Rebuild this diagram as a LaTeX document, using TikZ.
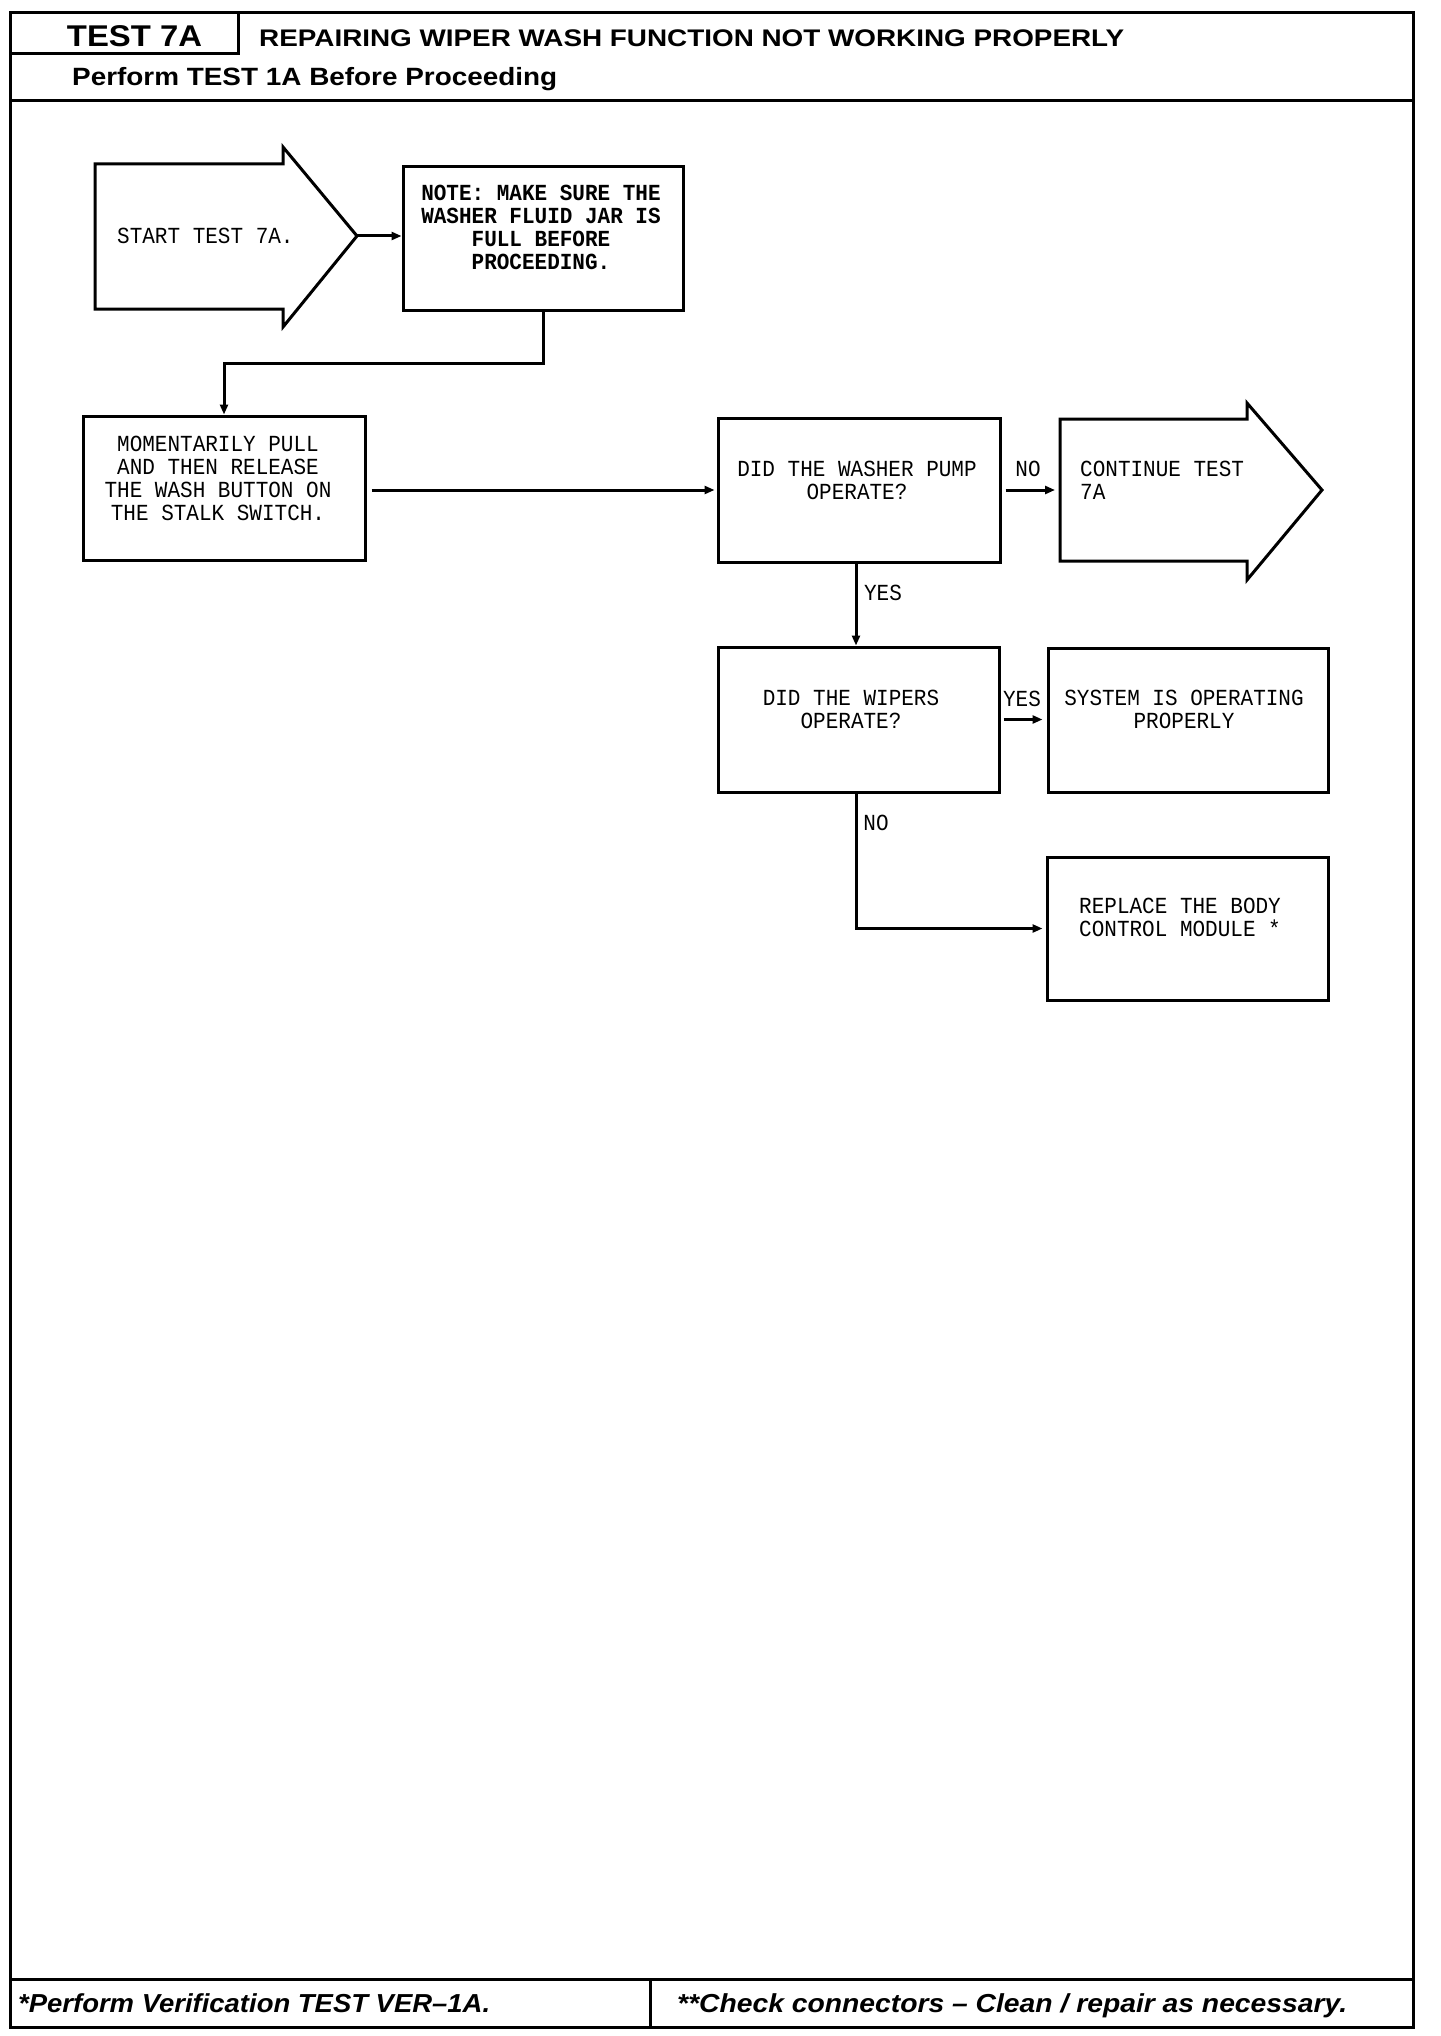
\documentclass[tikz,border=0pt]{standalone}
\usepackage{fontspec}
\setmainfont{Liberation Sans}
\newfontfamily\plotfont[FakeStretch=0.913]{Liberation Mono}
\usetikzlibrary{arrows.meta,calc}
\newcommand{\fitw}[2]{\resizebox{#1}{\height}{#2}}
\begin{document}
\begin{tikzpicture}[x=1pt,y=-1pt,
  frame/.style={line width=3pt},
  box/.style={draw,line width=3pt,minimum width=280pt,minimum height=143pt,inner sep=0pt},
  boxtxt/.style={inner sep=0pt,align=center,font=\plotfont\fontsize{23}{23}\selectfont},
  notetxt/.style={inner sep=0pt,align=center,font=\plotfont\bfseries\fontsize{23}{23}\selectfont},
  lbl/.style={inner sep=0pt,font=\plotfont\fontsize{23}{23}\selectfont},
  conn/.style={line width=3pt,-{Triangle[length=10pt,width=8pt]}},
  plain/.style={line width=3pt}
]
\useasboundingbox (0,0) rectangle (1440,2036);
\fill[white] (0,0) rectangle (1440,2036);

% frame and header
\draw[frame] (10,13) rectangle (1413,2027);
\draw[frame] (10,101) -- (1413,101);
\draw[frame] (10,53.5) -- (238,53.5) -- (238,13);
\draw[frame] (10,1979) -- (1413,1979);
\draw[frame] (650,1979) -- (650,2027);

\node[inner sep=0pt,anchor=base] (ttl) at (134.5,47)
  {\bfseries\fontsize{30}{30}\selectfont\fitw{135pt}{TEST 7A}};
\node[inner sep=0pt,anchor=base west] (head) at (259,47)
  {\bfseries\fontsize{24}{24}\selectfont\fitw{865pt}{REPAIRING WIPER WASH FUNCTION NOT WORKING PROPERLY}};
\node[inner sep=0pt,anchor=base west] (sub) at (72,86)
  {\bfseries\fontsize{25}{25}\selectfont\fitw{485pt}{Perform TEST 1A Before Proceeding}};
\node[inner sep=0pt,anchor=base west] (foot1) at (18,2012)
  {\bfseries\itshape\fontsize{26}{26}\selectfont\fitw{472pt}{*Perform Verification TEST VER\textendash1A.}};
\node[inner sep=0pt,anchor=base west] (foot2) at (677,2012)
  {\bfseries\itshape\fontsize{26}{26}\selectfont\fitw{670pt}{**Check connectors \textendash{} Clean / repair as necessary.}};

% start arrow
\draw[plain,line join=miter] (95,164) -- (283,164) -- (283,147) -- (357,236) -- (283,327) -- (283,309) -- (95,309) -- cycle;
\coordinate (starttip) at (357,236);
\node[lbl,anchor=west] (starttxt) at (117,236) {START TEST 7A.};

% note box
\node[box] (note) at (543,238.5) {};
\node[notetxt] (notetxt) at (541,227) {NOTE: MAKE SURE THE\\WASHER FLUID JAR IS\\FULL BEFORE\\PROCEEDING.};

% momentarily box
\node[box,minimum width=282pt,minimum height=144pt] (mom) at (224,488) {};
\node[boxtxt] (momtxt) at (218,478) {MOMENTARILY PULL\\AND THEN RELEASE\\THE WASH BUTTON ON\\THE STALK SWITCH.};

% washer pump box
\node[box,minimum width=282pt,minimum height=144pt] (pump) at (859,490) {};
\node[boxtxt] (pumptxt) at (857,480) {DID THE WASHER PUMP\\OPERATE?};

% continue arrow
\draw[plain,line join=miter] (1060,419) -- (1247,419) -- (1247,403) -- (1322,490) -- (1247,580) -- (1247,561) -- (1060,561) -- cycle;
\coordinate (conttail) at (1060,490);
\node[boxtxt,align=left,anchor=west] (conttxt) at (1080,480) {CONTINUE TEST\\7A};

% wipers box
\node[box,minimum width=281pt,minimum height=145pt] (wip) at (858.5,719.5) {};
\node[boxtxt] (wiptxt) at (851,709) {DID THE WIPERS\\OPERATE?};

% system box
\node[box,minimum height=144pt] (sys) at (1188,720) {};
\node[boxtxt] (systxt) at (1184,709) {SYSTEM IS OPERATING\\PROPERLY};

% replace box
\node[box,minimum width=281pt] (rep) at (1187.5,928.5) {};
\node[boxtxt,align=left,anchor=west] (reptxt) at (1079,917) {REPLACE THE BODY\\CONTROL MODULE *};

% connectors
\draw[conn] (starttip) -- (note.west |- starttip);
\draw[conn] (note.south) -- ++(0,52) -| (mom.north);
\draw[conn,shorten <=5pt,shorten >=2pt] (mom.east |- pump.west) -- (pump.west);
\draw[conn,shorten <=4pt,shorten >=5pt] (pump.east) -- (conttail);
\node[lbl] (no1) at (1028,469) {NO};
\draw[conn] ([xshift=-3pt]pump.south) -- ([xshift=-3pt]pump.south |- wip.north);
\node[lbl] (yes1) at (883,593) {YES};
\draw[conn,shorten <=3pt,shorten >=4pt] (wip.east) -- (sys.west |- wip.east);
\node[lbl] (yes2) at (1022,699) {YES};
\draw[conn,shorten >=3pt] ([xshift=-2.5pt]wip.south) |- (rep.west);
\node[lbl] (no2) at (876,823) {NO};
\end{tikzpicture}
\end{document}
